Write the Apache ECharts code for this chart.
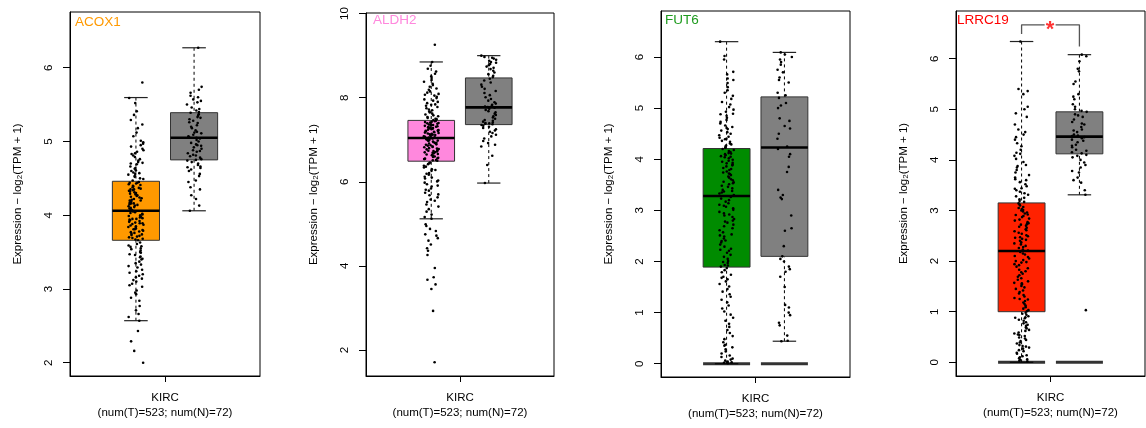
<!DOCTYPE html>
<html>
<head>
<meta charset="utf-8">
<script src="https://cdn.jsdelivr.net/npm/echarts@6.0.0/dist/echarts.min.js"></script>
<style>
  html, body { margin: 0; padding: 0; background: #fff; }
  #main { width: 1146px; height: 428px; }
</style>
</head>
<body>
<div id="main"></div>
<script>
var chart = echarts.init(document.getElementById('main'));

// genes / groups
var genes = ['ACOX1', 'ALDH2', 'FUT6', 'LRRC19'];
var geneColors = ['#FF9900', '#FF88DD', '#008B00', '#FF2200'];
var titleColors = ['#FF9900', '#FF88DD', '#1E9B1E', '#FF0000'];
var normalColor = '#808080';
var cohort = 'KIRC';
var countLabel = '(num(T)=523; num(N)=72)';

// y axis ticks and limits per panel
var yTicks = [[2, 3, 4, 5, 6], [2, 4, 6, 8, 10], [0, 1, 2, 3, 4, 5, 6], [0, 1, 2, 3, 4, 5, 6]];
var yMin = [1.82, 1.382, -0.26, -0.271];
var yMax = [6.755, 10.014, 6.90, 6.943];

// box stats: [lower whisker, Q1, median, Q3, upper whisker]
var acox1TumorBox = [2.57, 3.66, 4.06, 4.46, 5.595];
var acox1NormalBox = [4.06, 4.75, 5.05, 5.39, 6.27];
var aldh2TumorBox = [5.12, 6.49, 7.04, 7.46, 8.85];
var aldh2NormalBox = [5.97, 7.36, 7.77, 8.47, 9.00];
var fut6TumorBox = [0, 1.89, 3.28, 4.21, 6.30];
var fut6NormalBox = [0.44, 2.10, 4.23, 5.22, 6.09];
var lrrc19TumorBox = [0, 1.00, 2.20, 3.15, 6.34];
var lrrc19NormalBox = [3.31, 4.12, 4.46, 4.95, 6.08];

// sample points (log2(TPM+1))
var acox1Tumor = [5.80, 5.59, 5.41, 5.36, 5.52, 5.18, 5.29, 5.07, 5.12, 4.97, 5.01, 4.93, 4.88, 4.95, 4.84, 4.90, 4.79, 4.72, 4.81, 4.76, 4.69, 4.74, 4.63, 4.66, 4.58, 4.61, 4.55, 4.70, 4.52, 4.49, 4.57, 4.47, 4.53, 4.60, 4.86, 4.99, 5.23, 4.64, 4.50, 4.44, 4.71, 4.56, 4.83,
  4.45, 4.41, 4.38, 4.43, 4.35, 4.32, 4.40, 4.29, 4.36, 4.26, 4.31, 4.23, 4.28, 4.21, 4.34, 4.18, 4.25, 4.15, 4.20, 4.12, 4.17, 4.09, 4.14, 4.07, 4.11, 4.39, 4.22, 4.30, 4.08, 4.42, 4.16, 4.27, 4.10, 4.37, 4.19, 4.33, 4.24, 4.13, 4.44, 4.06, 4.20, 4.35, 4.29, 4.16,
  4.04, 4.01, 3.98, 4.03, 3.95, 3.92, 4.00, 3.89, 3.96, 3.86, 3.91, 3.83, 3.88, 3.80, 3.94, 3.77, 3.85, 3.74, 3.81, 3.71, 3.78, 3.68, 3.75, 3.66, 3.70, 3.99, 3.82, 3.90, 3.67, 4.02, 3.76, 3.87, 3.69, 3.97, 3.79, 3.93, 3.84, 3.72, 4.05, 3.73, 3.89, 3.95, 3.81, 3.98,
  3.63, 3.59, 3.61, 3.55, 3.57, 3.52, 3.49, 3.54, 3.46, 3.50, 3.43, 3.40, 3.47, 3.37, 3.33, 3.41, 3.29, 3.35, 3.26, 3.31, 3.22, 3.18, 3.24, 3.14, 3.20, 3.10, 3.07, 3.12, 3.03, 2.98, 3.05, 2.93, 2.88, 2.95, 2.84, 2.77, 2.71, 2.66, 2.62, 2.57, 3.58, 3.44, 3.16,
  2.43, 2.29, 2.16, 2.00];
var acox1Normal = [6.27, 5.74, 5.70, 5.66, 5.62, 5.60, 5.57, 5.53, 5.50, 5.46, 5.44, 5.42, 5.40, 5.39, 5.37, 5.35, 5.33, 5.30, 5.28, 5.25, 5.22, 5.20, 5.18, 5.15, 5.13, 5.11, 5.09, 5.07, 5.06, 5.05, 5.04, 5.02, 5.00, 4.98, 4.96, 4.94, 4.92, 4.90, 4.88, 4.86, 4.84, 4.82, 4.80, 4.78, 4.76, 4.75, 4.74, 4.72, 4.70, 4.68, 4.66, 4.65, 4.64, 4.62, 4.60, 4.56, 4.53, 4.47, 4.45, 4.38, 4.35, 4.27, 4.22, 4.13, 4.06, 5.12, 5.26, 4.87, 4.95, 5.32, 5.55, 4.81];

var aldh2Tumor = [9.26, 8.85, 8.76, 8.69, 8.62, 8.57, 8.51, 8.47, 8.42, 8.38, 8.33, 8.30, 8.26, 8.22, 8.19, 8.15, 8.12, 8.09, 8.05, 8.02, 7.99, 7.96, 7.93, 7.90, 7.87, 7.84, 7.81, 7.78, 7.75, 7.72, 7.70, 7.67, 7.65, 7.62, 7.60, 7.58, 7.56, 7.54, 7.52, 7.50, 7.49, 7.47, 8.07, 7.83,
  7.45, 7.44, 7.42, 7.41, 7.40, 7.38, 7.37, 7.36, 7.34, 7.33, 7.32, 7.30, 7.29, 7.28, 7.26, 7.25, 7.24, 7.22, 7.21, 7.20, 7.18, 7.17, 7.16, 7.14, 7.13, 7.12, 7.10, 7.09, 7.08, 7.06, 7.05, 7.39, 7.31, 7.23, 7.15, 7.07, 7.43, 7.27, 7.19, 7.11, 7.35, 7.04, 7.21, 7.29,
  7.03, 7.01, 6.99, 6.98, 6.96, 6.94, 6.93, 6.91, 6.89, 6.87, 6.86, 6.84, 6.82, 6.80, 6.79, 6.77, 6.75, 6.73, 6.71, 6.70, 6.68, 6.66, 6.64, 6.63, 6.61, 6.59, 6.57, 6.56, 6.54, 6.52, 6.50, 6.97, 6.88, 6.78, 6.69, 6.60, 6.51, 6.92, 6.83, 6.74, 6.65, 6.55, 7.00, 6.72,
  6.46, 6.42, 6.38, 6.34, 6.30, 6.26, 6.21, 6.17, 6.12, 6.08, 6.03, 5.98, 5.94, 5.89, 5.84, 5.79, 5.74, 5.68, 5.63, 5.58, 5.52, 5.46, 5.41, 5.35, 5.29, 5.22, 5.16, 5.12, 6.44, 6.36, 6.28, 6.19, 6.10, 6.01, 5.91, 5.81, 5.70, 5.55,
  4.99, 4.95, 4.88, 4.83, 4.75, 4.72, 4.66, 4.60, 4.51, 4.42, 4.36, 4.26, 3.95, 3.73, 3.67, 3.56, 3.45, 2.93, 1.71];
var aldh2Normal = [9.00, 8.97, 8.95, 8.93, 8.90, 8.88, 8.85, 8.83, 8.80, 8.77, 8.74, 8.71, 8.68, 8.64, 8.60, 8.56, 8.52, 8.49,
  8.45, 8.41, 8.36, 8.31, 8.26, 8.21, 8.16, 8.11, 8.06, 8.01, 7.97, 7.93, 7.89, 7.86, 7.83, 7.81, 7.79, 7.78,
  7.76, 7.74, 7.71, 7.68, 7.65, 7.62, 7.59, 7.56, 7.53, 7.50, 7.47, 7.45, 7.43, 7.41, 7.40, 7.39, 7.38, 7.37,
  7.35, 7.33, 7.31, 7.28, 7.25, 7.22, 7.19, 7.16, 7.12, 7.08, 7.03, 6.97, 6.92, 6.88, 6.84, 6.62, 6.40, 5.97];

var fut6Tumor = [6.30, 6.02, 5.95, 5.71, 5.66, 5.58, 5.49, 5.41, 5.35, 5.30, 5.24, 5.18, 5.12, 5.07, 5.02, 4.97, 4.93, 4.89, 4.85, 4.81, 4.77, 4.73, 4.70, 4.66, 4.63, 4.59, 4.56, 4.53, 4.50, 4.47, 4.44, 4.42, 4.39, 4.36, 4.34, 4.31, 4.29, 4.27, 4.25, 4.23, 4.22, 4.88, 4.61, 4.40, 5.55,
  4.20, 4.18, 4.16, 4.14, 4.12, 4.10, 4.08, 4.06, 4.04, 4.02, 3.99, 3.97, 3.95, 3.93, 3.90, 3.88, 3.86, 3.83, 3.81, 3.79, 3.76, 3.74, 3.71, 3.69, 3.66, 3.64, 3.61, 3.59, 3.56, 3.53, 3.51, 3.48, 3.46, 3.43, 3.40, 3.38, 3.35, 3.33, 3.30, 4.11, 3.92, 3.72, 3.55, 3.37, 4.05,
  3.26, 3.23, 3.20, 3.17, 3.14, 3.11, 3.07, 3.04, 3.01, 2.97, 2.94, 2.90, 2.87, 2.83, 2.80, 2.76, 2.72, 2.69, 2.65, 2.61, 2.57, 2.53, 2.49, 2.45, 2.41, 2.37, 2.33, 2.29, 2.25, 2.21, 2.17, 2.13, 2.09, 2.05, 2.01, 1.97, 1.93, 1.90, 3.09, 2.78, 2.51, 2.23, 1.99, 2.92, 2.40,
  1.87, 1.83, 1.79, 1.74, 1.70, 1.65, 1.61, 1.56, 1.51, 1.46, 1.41, 1.36, 1.31, 1.25, 1.20, 1.14, 1.08, 1.02, 0.96, 0.90, 0.84, 0.78, 0.72, 0.66, 0.60, 0.54, 0.48, 0.42, 0.37, 0.32, 0.28, 0.24, 0.20, 0.16, 0.13, 0.10, 0.08, 0.06, 0.04, 0.03, 0.02, 0.01, 1.92, 1.68, 0.35];
var fut6Normal = [6.09, 6.05, 6.00, 5.95, 5.90, 5.85, 5.75, 5.70, 5.60, 5.55, 5.50, 5.30, 5.25, 5.20, 5.10, 5.05, 5.00, 4.80, 4.75, 4.65, 4.60, 4.50, 4.40, 4.25, 4.20, 4.10, 4.05, 3.85, 3.75, 3.40, 3.30, 3.25, 3.22, 2.90, 2.65, 2.60, 2.30, 2.10, 2.05, 2.00, 1.90, 1.85, 1.80, 1.70, 1.50, 1.15, 1.10, 1.00, 0.95, 0.80, 0.75, 0.55, 0.45, 0.44];

var lrrc19Tumor = [6.34, 5.40, 5.36, 5.30, 5.05, 5.00, 4.92, 4.85, 4.70, 4.60, 4.55, 4.50, 4.45, 4.40, 4.33, 4.27, 4.20, 4.14, 4.08, 4.02, 3.96, 3.90, 3.85, 3.80, 3.75, 3.70, 3.65, 3.60, 3.56, 3.52, 3.48, 3.44, 3.40, 3.37, 3.34, 3.31, 3.28, 3.25, 3.22, 3.19, 3.17, 3.62, 3.43, 3.88, 4.12,
  3.14, 3.12, 3.10, 3.07, 3.05, 3.03, 3.01, 2.98, 2.96, 2.94, 2.91, 2.89, 2.87, 2.84, 2.82, 2.80, 2.77, 2.75, 2.73, 2.70, 2.68, 2.66, 2.63, 2.61, 2.59, 2.56, 2.54, 2.51, 2.49, 2.47, 2.44, 2.42, 2.40, 2.37, 2.35, 2.33, 2.30, 2.28, 2.26, 2.23, 2.21, 3.00, 2.72, 2.46, 2.92,
  2.18, 2.15, 2.13, 2.10, 2.08, 2.05, 2.02, 2.00, 1.97, 1.94, 1.92, 1.89, 1.86, 1.83, 1.80, 1.78, 1.75, 1.72, 1.69, 1.66, 1.63, 1.60, 1.57, 1.54, 1.51, 1.48, 1.45, 1.42, 1.39, 1.36, 1.33, 1.30, 1.27, 1.24, 1.21, 1.18, 1.15, 1.12, 1.09, 1.06, 1.03, 1.01, 1.98, 1.56, 1.25,
  0.98, 0.96, 0.94, 0.91, 0.89, 0.87, 0.84, 0.82, 0.79, 0.77, 0.74, 0.72, 0.69, 0.67, 0.64, 0.62, 0.59, 0.57, 0.54, 0.52, 0.49, 0.47, 0.44, 0.42, 0.39, 0.37, 0.34, 0.32, 0.29, 0.27, 0.24, 0.22, 0.19, 0.17, 0.14, 0.12, 0.10, 0.08, 0.06, 0.05, 0.03, 0.02, 0.88, 0.55, 0.31];
var lrrc19Normal = [6.08, 6.05, 5.95, 5.80, 5.75, 5.55, 5.50, 5.30, 5.25, 5.20, 5.10, 5.05, 5.00, 4.97, 4.95, 4.90, 4.88, 4.85, 4.80, 4.75, 4.72, 4.70, 4.65, 4.60, 4.58, 4.55, 4.50, 4.48, 4.47, 4.45, 4.43, 4.40, 4.38, 4.35, 4.30, 4.28, 4.25, 4.20, 4.18, 4.15, 4.13, 4.10, 4.08, 4.05, 4.00, 3.95, 3.90, 3.85, 3.78, 3.75, 3.65, 3.60, 3.55, 3.40, 3.31, 1.03];

// samples sitting at 0 (drawn as a floor bar), per panel: [tumor, normal]
var zeroFloor = [[], [], [0, 0], [0, 0]];

// significance bracket for LRRC19 (y levels)
var sigLevels = [6.49, 6.67, 6.24];

var tumorPts = [acox1Tumor, aldh2Tumor, fut6Tumor, lrrc19Tumor];
var normalPts = [acox1Normal, aldh2Normal, fut6Normal, lrrc19Normal];
var tumorBoxes = [acox1TumorBox, aldh2TumorBox, fut6TumorBox, lrrc19TumorBox];
var normalBoxes = [acox1NormalBox, aldh2NormalBox, fut6NormalBox, lrrc19NormalBox];

// layout
var grids = [
  { left: 70, top: 12, width: 190, height: 364 },
  { left: 366, top: 13, width: 188, height: 363 },
  { left: 661, top: 11, width: 189, height: 366 },
  { left: 956, top: 11, width: 189, height: 365 }
];
var titlePos = [[75, 15], [373, 13], [665, 13], [957, 13]];
var groupX = [0.347, 0.653];
var BOX_HALF = 0.124;
var JIT = 0.04;
var FONT = '"Liberation Sans", Arial, Helvetica, sans-serif';

function jit(i, seed) {
  var s = Math.sin((i + 1) * 12.9898 + seed * 78.233) * 43758.5453;
  return (s - Math.floor(s)) * 2 - 1;
}

function renderBox(params, api) {
  var x = api.value(0);
  var lo = api.coord([x, api.value(1)]);
  var hi = api.coord([x, api.value(5)]);
  var q1L = api.coord([x - BOX_HALF, api.value(2)]);
  var q3R = api.coord([x + BOX_HALF, api.value(4)]);
  var mL = api.coord([x - BOX_HALF, api.value(3)]);
  var mR = api.coord([x + BOX_HALF, api.value(3)]);
  var cL = api.coord([x - BOX_HALF / 2, 0])[0];
  var cR = api.coord([x + BOX_HALF / 2, 0])[0];
  var dash = { stroke: '#000', lineWidth: 1, lineDash: [3, 3] };
  var solid = { stroke: '#222', lineWidth: 1.2 };
  return {
    type: 'group',
    children: [
      { type: 'line', shape: { x1: hi[0], y1: hi[1], x2: hi[0], y2: q3R[1] }, style: dash },
      { type: 'line', shape: { x1: lo[0], y1: lo[1], x2: lo[0], y2: q1L[1] }, style: dash },
      { type: 'line', shape: { x1: cL, y1: hi[1], x2: cR, y2: hi[1] }, style: solid },
      { type: 'line', shape: { x1: cL, y1: lo[1], x2: cR, y2: lo[1] }, style: solid },
      { type: 'rect', shape: { x: q1L[0], y: q3R[1], width: q3R[0] - q1L[0], height: q1L[1] - q3R[1] },
        style: { fill: api.visual('color'), stroke: '#333', lineWidth: 1 } },
      { type: 'line', shape: { x1: mL[0], y1: mL[1], x2: mR[0], y2: mR[1] }, style: { stroke: '#000', lineWidth: 2.6 } }
    ]
  };
}

var option = {
  animation: false,
  backgroundColor: '#fff',
  title: [],
  grid: [],
  xAxis: [],
  yAxis: [],
  series: []
};

for (var p = 0; p < genes.length; p++) {
  var g = grids[p];
  option.grid.push({ left: g.left, top: g.top, width: g.width, height: g.height,
    show: true, borderColor: '#000', borderWidth: 1, backgroundColor: 'transparent' });
  option.title.push({
    text: genes[p], left: titlePos[p][0], top: titlePos[p][1], padding: 0,
    textStyle: { color: titleColors[p], fontSize: 13.5, fontWeight: 'normal', fontFamily: FONT }
  });
  option.xAxis.push({
    type: 'value', gridIndex: p, min: 0, max: 1,
    splitLine: { show: false },
    axisLine: { show: true, onZero: false, lineStyle: { color: '#000', width: 1 } },
    axisTick: { show: true, length: 6, customValues: [0.5], lineStyle: { color: '#000' } },
    axisLabel: {
      show: true, customValues: [0.5], margin: 14, color: '#000',
      fontSize: 11.5, lineHeight: 15.5, fontFamily: FONT,
      formatter: function () { return cohort + '\n' + countLabel; }
    }
  });
  option.yAxis.push({
    type: 'value', gridIndex: p, min: yMin[p], max: yMax[p],
    splitLine: { show: false },
    axisLine: { show: true, onZero: false, lineStyle: { color: '#000', width: 1 } },
    axisTick: { show: true, length: 7, customValues: yTicks[p], lineStyle: { color: '#000' } },
    axisLabel: { show: true, customValues: yTicks[p], rotate: 90, margin: 15, color: '#000',
      fontSize: 11.5, fontFamily: FONT },
    name: 'Expression \u2212 log{sub|2}(TPM + 1)',
    nameLocation: 'middle', nameRotate: 90, nameGap: 46,
    nameTextStyle: { color: '#000', fontSize: 11.5, fontFamily: FONT,
      rich: { sub: { fontSize: 8, fontFamily: FONT, color: '#000', verticalAlign: 'bottom', padding: [5, 0, 0, 0] } } }
  });

  option.series.push({
    type: 'custom', xAxisIndex: p, yAxisIndex: p, silent: true, z: 2,
    renderItem: renderBox,
    encode: { x: 0, y: [1, 2, 3, 4, 5] },
    data: [
      { value: [groupX[0]].concat(tumorBoxes[p]), itemStyle: { color: geneColors[p] } },
      { value: [groupX[1]].concat(normalBoxes[p]), itemStyle: { color: normalColor } }
    ]
  });

  var pts = [];
  tumorPts[p].forEach(function (v, i) { pts.push([groupX[0] + JIT * jit(i, p), v]); });
  normalPts[p].forEach(function (v, i) { pts.push([groupX[1] + JIT * jit(i, p + 10), v]); });
  option.series.push({
    type: 'scatter', xAxisIndex: p, yAxisIndex: p, silent: true, z: 3,
    symbol: 'circle', symbolSize: 2.6,
    itemStyle: { color: '#000', opacity: 1 },
    data: pts
  });

  if (zeroFloor[p].length) {
    option.series.push({
      type: 'scatter', xAxisIndex: p, yAxisIndex: p, silent: true, z: 4,
      symbol: 'rect', symbolSize: [47, 3],
      itemStyle: { color: '#000' },
      data: zeroFloor[p].map(function (v, k) { return [groupX[k], v]; })
    });
  }
}

// significance bracket on LRRC19 panel
var sp = 3;
option.series.push({
  type: 'line', xAxisIndex: sp, yAxisIndex: sp, silent: true, z: 5,
  symbol: 'none', lineStyle: { color: '#555', width: 1.3 },
  data: [[groupX[0], sigLevels[0]], [groupX[0], sigLevels[1]], [0.469, sigLevels[1]]]
});
option.series.push({
  type: 'line', xAxisIndex: sp, yAxisIndex: sp, silent: true, z: 5,
  symbol: 'none', lineStyle: { color: '#555', width: 1.3 },
  data: [[0.527, sigLevels[1]], [groupX[1], sigLevels[1]], [groupX[1], sigLevels[2]]]
});
option.series.push({
  type: 'scatter', xAxisIndex: sp, yAxisIndex: sp, silent: true, z: 6,
  symbolSize: 0,
  label: { show: true, position: 'inside', formatter: '*', color: '#FF0000', fontSize: 22,
    fontWeight: 'bold', fontFamily: FONT, offset: [0, 5] },
  data: [[0.498, sigLevels[1]]]
});

chart.setOption(option);
</script>
</body>
</html>
